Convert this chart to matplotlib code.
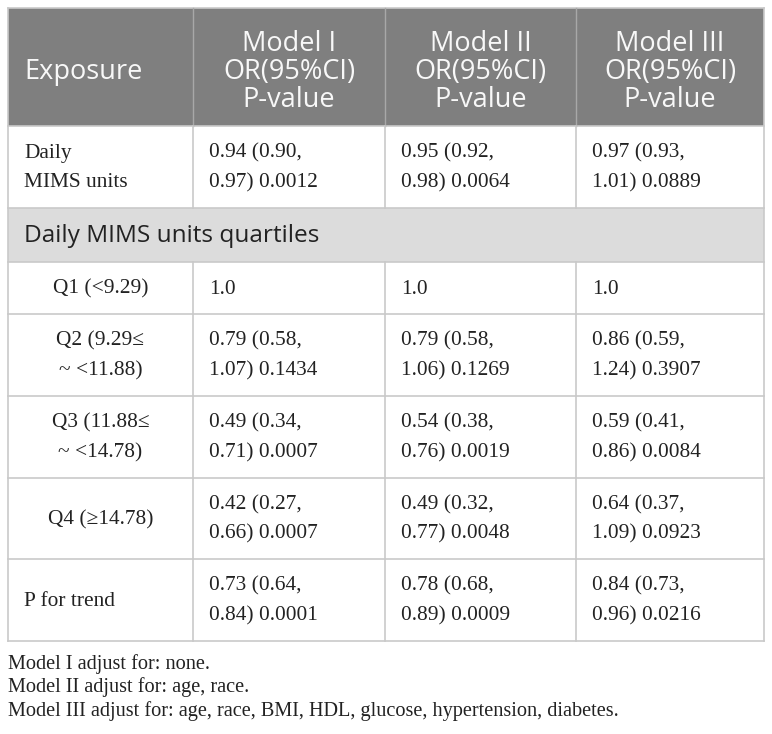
import matplotlib
matplotlib.use("Agg")
import matplotlib.pyplot as plt
from matplotlib.patches import Rectangle

# ---- data ----
header_labels = ["Exposure", "Model I\nOR(95%CI)\nP-value", "Model II\nOR(95%CI)\nP-value", "Model III\nOR(95%CI)\nP-value"]
row_labels = ["Daily\nMIMS units", None, "Q1 (<9.29)", "Q2 (9.29≤\n~ <11.88)", "Q3 (11.88≤\n~ <14.78)", "Q4 (≥14.78)", "P for trend"]
section_label = "Daily MIMS units quartiles"
model1 = ["0.94 (0.90, 0.97) 0.0012", None, "1.0", "0.79 (0.58, 1.07) 0.1434", "0.49 (0.34, 0.71) 0.0007", "0.42 (0.27, 0.66) 0.0007", "0.73 (0.64, 0.84) 0.0001"]
model2 = ["0.95 (0.92, 0.98) 0.0064", None, "1.0", "0.79 (0.58, 1.06) 0.1269", "0.54 (0.38, 0.76) 0.0019", "0.49 (0.32, 0.77) 0.0048", "0.78 (0.68, 0.89) 0.0009"]
model3 = ["0.97 (0.93, 1.01) 0.0889", None, "1.0", "0.86 (0.59, 1.24) 0.3907", "0.59 (0.41, 0.86) 0.0084", "0.64 (0.37, 1.09) 0.0923", "0.84 (0.73, 0.96) 0.0216"]
footnotes = ["Model I adjust for: none.",
             "Model II adjust for: age, race.",
             "Model III adjust for: age, race, BMI, HDL, glucose, hypertension, diabetes."]

# ---- layout (pixels) ----
W, H = 772, 734
col_x = [8, 193, 385, 576, 764]
row_y = [8, 126, 208, 262, 314, 396, 478, 559, 641]
label_align = ["left", None, "center", "center", "center", "center", "left"]

fig = plt.figure(figsize=(W / 100, H / 100), dpi=100)
ax = fig.add_axes([0, 0, 1, 1])
ax.set_xlim(0, W)
ax.set_ylim(H, 0)
ax.axis("off")

sans = "Open Sans"
serif = "Liberation Serif"
border = "#c9c9c9"
header_bg = "#7f7f7f"
section_bg = "#dcdcdc"
ink = "#222222"

ax.add_patch(Rectangle((col_x[0], row_y[0]), col_x[-1] - col_x[0], row_y[1] - row_y[0],
                       facecolor=header_bg, edgecolor="none", zorder=0))
ax.add_patch(Rectangle((col_x[0], row_y[2]), col_x[-1] - col_x[0], row_y[3] - row_y[2],
                       facecolor=section_bg, edgecolor="none", zorder=0))

for y in row_y:
    ax.plot([col_x[0], col_x[-1]], [y, y], color=border, lw=1.2, zorder=1)
for i, x in enumerate(col_x):
    if i in (0, len(col_x) - 1):
        ax.plot([x, x], [row_y[0], row_y[-1]], color=border, lw=1.2, zorder=1)
    else:
        ax.plot([x, x], [row_y[0], row_y[1]], color="#a8a8a8", lw=1.0, zorder=1)
        ax.plot([x, x], [row_y[1], row_y[2]], color=border, lw=1.2, zorder=1)
        ax.plot([x, x], [row_y[3], row_y[-1]], color=border, lw=1.2, zorder=1)

# header text
hy = (row_y[0] + row_y[1]) / 2 + 5
ax.text(col_x[0] + 16, hy, header_labels[0], ha="left", va="center", color="#f8f8f8",
        fontsize=19.5, family=sans)
for j in range(1, 4):
    cx = (col_x[j] + col_x[j + 1]) / 2
    ax.text(cx, hy, header_labels[j], ha="center", va="center", color="#f8f8f8",
            fontsize=19.5, family=sans, linespacing=0.98, multialignment="center")

# body rows
body_fs = 15.4
models = [model1, model2, model3]
for r in range(len(row_labels)):
    y0, y1 = row_y[r + 1], row_y[r + 2]
    cy = (y0 + y1) / 2 + 1
    if row_labels[r] is None:
        ax.text(col_x[0] + 16, cy, section_label, ha="left", va="center",
                fontsize=17.6, family=sans, color=ink)
        continue
    al = label_align[r]
    lx = col_x[0] + 16 if al == "left" else (col_x[0] + col_x[1]) / 2
    ax.text(lx, cy, row_labels[r], ha=al, va="center", fontsize=body_fs, family=serif,
            linespacing=1.72, multialignment="center" if al == "center" else "left", color=ink)
    for j, m in enumerate(models):
        txt = m[r].replace(", ", ",\n", 1)
        ax.text(col_x[j + 1] + 16, cy, txt, ha="left", va="center", fontsize=body_fs,
                family=serif, linespacing=1.72, color=ink)

# footnotes
for k, t in enumerate(footnotes):
    ax.text(col_x[0], 664 + k * 23.5, t, ha="left", va="center", fontsize=14.6,
            family=serif, color=ink)

fig.savefig("out.png", dpi=100, facecolor="white")
